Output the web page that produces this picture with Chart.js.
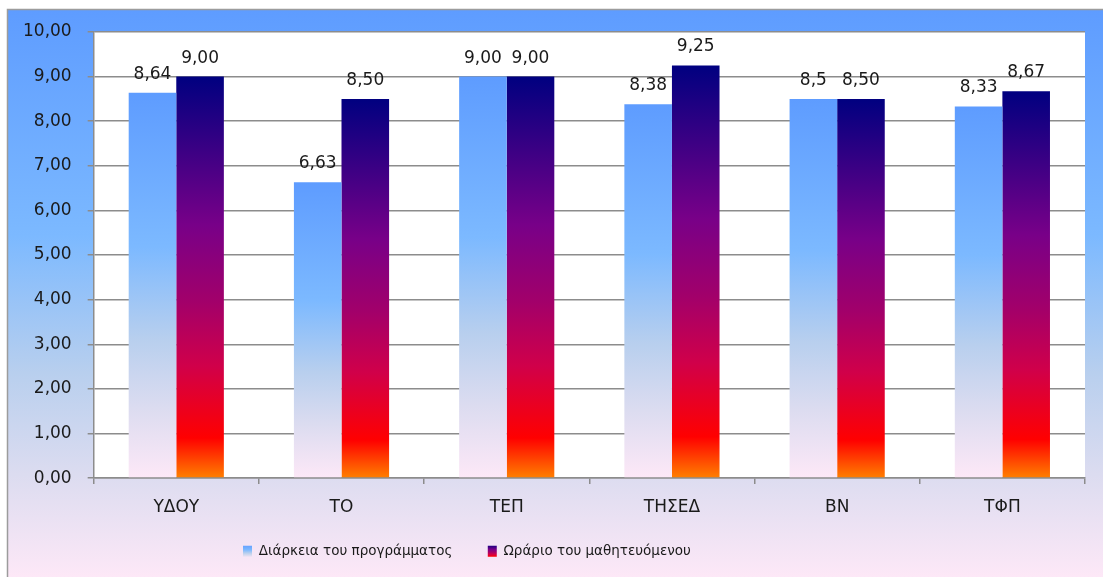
<!DOCTYPE html>
<html>
<head>
<meta charset="utf-8">
<script src="https://cdn.jsdelivr.net/npm/chart.js@4/dist/chart.umd.min.js"></script>
<style>
  html, body { margin: 0; padding: 0; background: #fff; }
  #wrap { width: 1103px; height: 577px; }
</style>
</head>
<body>
<div id="wrap"><canvas id="chart" width="1103" height="577"></canvas></div>
<script>
// data
const categories = ['ΥΔΟΥ', 'ΤΟ', 'ΤΕΠ', 'ΤΗΣΕΔ', 'ΒΝ', 'ΤΦΠ'];
const seriesNames = ['Διάρκεια του προγράμματος', 'Ωράριο του μαθητευόμενου'];
const programDuration = [8.64, 6.63, 9.00, 8.38, 8.5, 8.33];
const learnerHours = [9.00, 8.50, 9.00, 9.25, 8.50, 8.67];
const durationLabels = ['8,64', '6,63', '9,00', '8,38', '8,5', '8,33'];
const hoursLabels = ['9,00', '8,50', '9,00', '9,25', '8,50', '8,67'];
const yTicks = [0, 1, 2, 3, 4, 5, 6, 7, 8, 9, 10];

const FONT = "'DejaVu Sans', Verdana, sans-serif";
const LEGEND_X = 243; // legend sits left of centre in the original

// gradient stops (offset, colour)
const blueStops = [[0, '#5e9cff'], [0.4, '#7cb9ff'], [0.64, '#b8cfee'], [0.82, '#dcdcf0'], [1, '#fde8f7']];
const fireStops = [[0, '#000080'], [0.37, '#780088'], [0.56, '#a2006a'], [0.72, '#d0004a'], [0.9, '#ff0000'], [1, '#ff8000']];

function makeGradient(ctx, top, bottom, stops) {
  const g = ctx.createLinearGradient(0, top, 0, bottom);
  stops.forEach(s => g.addColorStop(s[0], s[1]));
  return g;
}

function barFill(stops, fallback) {
  return (c) => {
    const chart = c.chart;
    if (c.type !== 'data' || !chart.chartArea) return fallback;
    const y = chart.scales.y;
    const v = chart.data.datasets[c.datasetIndex].data[c.dataIndex];
    return makeGradient(chart.ctx, y.getPixelForValue(v), y.getPixelForValue(0), stops);
  };
}

const backgroundPlugin = {
  id: 'background',
  beforeDraw(chart) {
    const { ctx, width, height, chartArea } = chart;
    ctx.save();
    ctx.fillStyle = '#fff';
    ctx.fillRect(0, 0, width, height);
    ctx.fillStyle = makeGradient(ctx, 9, height, blueStops);
    ctx.fillRect(7, 9, width - 7, height - 9);
    ctx.strokeStyle = '#9c9c9c';
    ctx.lineWidth = 1.5;
    ctx.beginPath();
    ctx.moveTo(7.5, height);
    ctx.lineTo(7.5, 9.5);
    ctx.lineTo(width, 9.5);
    ctx.stroke();
    ctx.fillStyle = '#fff';
    ctx.fillRect(chartArea.left, chartArea.top, chartArea.right - chartArea.left, chartArea.bottom - chartArea.top);
    ctx.restore();

    const legend = chart.legend;
    if (legend && legend.legendItems && legend.legendHitBoxes) {
      // shift the centred legend so it starts where the original does
      const pad = legend.options.labels.padding;
      legend.right = 2 * LEGEND_X - (legend.left + pad) + legend.lineWidths[0];
      // gradient legend swatches
      const fs = legend.options.labels.font.size;
      legend.legendItems.forEach((item, i) => {
        const hb = legend.legendHitBoxes[i];
        if (!hb) return;
        item.fillStyle = makeGradient(ctx, hb.top, hb.top + fs, i === 0 ? blueStops : fireStops);
        item.lineWidth = 0;
        item.strokeStyle = 'rgba(0,0,0,0)';
      });
    }
  }
};

const valueLabelPlugin = {
  id: 'valueLabels',
  afterDatasetsDraw(chart) {
    const ctx = chart.ctx;
    const texts = [durationLabels, hoursLabels];
    ctx.save();
    ctx.font = '17px ' + FONT;
    ctx.fillStyle = '#1a1a1a';
    ctx.textAlign = 'center';
    ctx.textBaseline = 'alphabetic';
    chart.data.datasets.forEach((ds, di) => {
      chart.getDatasetMeta(di).data.forEach((bar, i) => {
        ctx.fillText(texts[di][i], bar.x, bar.y - 14);
      });
    });
    ctx.restore();
  }
};

new Chart(document.getElementById('chart'), {
  type: 'bar',
  data: {
    labels: categories,
    datasets: [
      {
        label: seriesNames[0],
        data: programDuration,
        backgroundColor: barFill(blueStops, '#7cb9ff'),
        borderWidth: 0
      },
      {
        label: seriesNames[1],
        data: learnerHours,
        backgroundColor: barFill(fireStops, '#a2006a'),
        borderWidth: 0
      }
    ]
  },
  options: {
    responsive: false,
    animation: false,
    devicePixelRatio: 1,
    layout: { padding: { left: 7, right: 18, top: 32, bottom: 9 } },
    datasets: { bar: { categoryPercentage: 0.576, barPercentage: 1 } },
    scales: {
      x: {
        grid: { drawOnChartArea: false, drawTicks: true, tickLength: 6, color: '#8c8c8c', lineWidth: 1.5 },
        border: { display: true, color: '#8c8c8c', width: 1.5 },
        ticks: { color: '#1a1a1a', font: { family: FONT, size: 17 }, padding: 13 }
      },
      y: {
        min: 0,
        max: 10,
        afterBuildTicks: (axis) => { axis.ticks = yTicks.map(v => ({ value: v })); },
        grid: { color: '#8c8c8c', lineWidth: 1.5, tickLength: 6 },
        border: { display: true, color: '#8c8c8c', width: 1.5 },
        ticks: {
          color: '#1a1a1a',
          font: { family: FONT, size: 17 },
          padding: 16,
          callback: (v) => Number(v).toFixed(2).replace('.', ',')
        }
      }
    },
    plugins: {
      legend: {
        position: 'bottom',
        labels: {
          color: '#1a1a1a',
          font: { family: FONT, size: 13.5 },
          boxWidth: 9,
          boxHeight: 11,
          padding: 14,
          // extra gap after the first entry, as in the reference
          generateLabels: (chart) => Chart.defaults.plugins.legend.labels.generateLabels(chart)
            .map((item, i) => (i === 0 ? { ...item, text: item.text + '     ' } : item))
        }
      },
      tooltip: { enabled: false }
    }
  },
  plugins: [backgroundPlugin, valueLabelPlugin]
});
</script>
</body>
</html>
